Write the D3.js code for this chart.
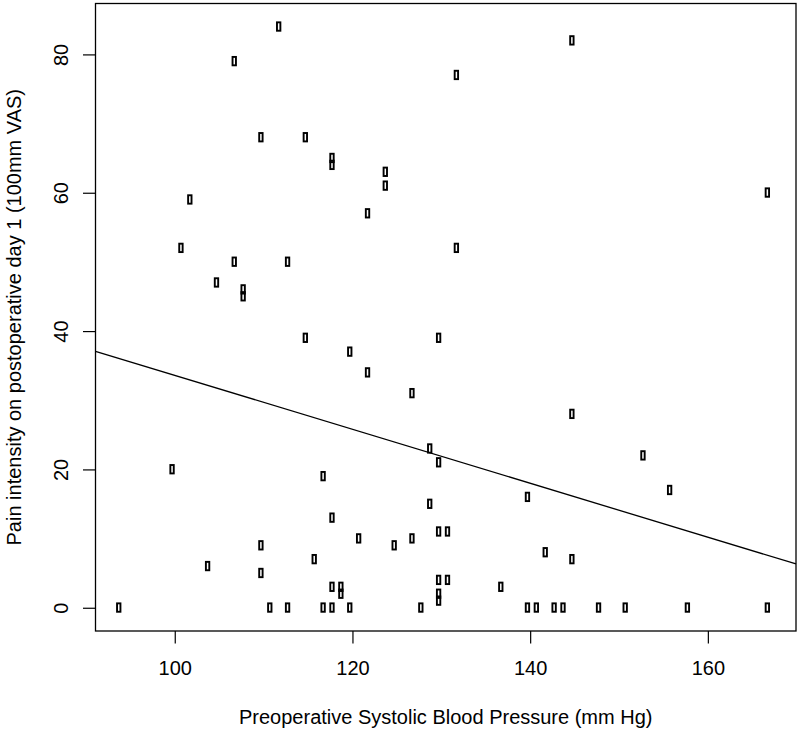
<!DOCTYPE html>
<html>
<head>
<meta charset="utf-8">
<script src="https://cdn.jsdelivr.net/npm/d3@7"></script>
<style>
  body { margin: 0; background: #fff; }
  text { font-family: "Liberation Sans", Arial, sans-serif; fill: #000; }
</style>
</head>
<body>
<svg id="chart" width="800" height="731"></svg>
<script>
// systolic BP (mm Hg) and pain VAS day 1
var bp = [112, 107, 110, 115, 118, 118, 102, 101, 107, 113, 105, 108, 108,
  132, 124, 124, 122, 132, 145, 167,
  115, 100, 117, 110, 104, 110, 116, 94, 111, 113, 117, 118, 118, 118,
  130, 120, 122, 127, 129, 130, 129, 140, 130, 131, 121, 125, 127, 142,
  130, 131, 137, 119, 119, 130, 130, 120, 128, 140, 141, 143, 144,
  145, 153, 156, 145, 148, 151, 158, 167];
var pain = [84, 79, 68, 68, 65, 64, 59, 52, 50, 50, 47, 46, 45,
  77, 63, 61, 57, 52, 82, 60,
  39, 20, 19, 9, 6, 5, 7, 0, 0, 0, 0, 13, 3, 0,
  39, 37, 34, 31, 23, 21, 15, 16, 11, 11, 10, 9, 10, 8,
  4, 4, 3, 3, 2, 2, 1, 0, 0, 0, 0, 0, 0,
  28, 22, 17, 7, 0, 0, 0, 0];

var xTicks = [100, 120, 140, 160];
var yTicks = [0, 20, 40, 60, 80];

// fitted line
var fitIntercept = 72.6;
var fitSlope = -0.390;

var svg = d3.select("#chart");
var pLeft = 95.5, pRight = 796, pTop = 3.5, pBottom = 631;

// R style 4% padding around data range
var xr = d3.extent(bp), yr = d3.extent(pain);
var xpad = (xr[1] - xr[0]) * 0.04, ypad = (yr[1] - yr[0]) * 0.04;

var x = d3.scaleLinear().domain([xr[0] - xpad, xr[1] + xpad]).range([pLeft, pRight]);
var y = d3.scaleLinear().domain([yr[0] - ypad, yr[1] + ypad]).range([pBottom, pTop]);

// x axis
var gx = svg.append("g")
  .attr("transform", "translate(0," + pBottom + ")")
  .call(d3.axisBottom(x).tickValues(xTicks).tickSize(12.5).tickFormat(d3.format("d")));
gx.select(".domain").remove();
gx.selectAll(".tick line").attr("stroke", "#000").attr("stroke-width", 1.2);
gx.selectAll(".tick text")
  .attr("y", 44.3).attr("dy", 0)
  .style("font-size", "20px");

// y axis
var gy = svg.append("g")
  .attr("transform", "translate(" + pLeft + ",0)")
  .call(d3.axisLeft(y).tickValues(yTicks).tickSize(12.5).tickFormat(d3.format("d")));
gy.select(".domain").remove();
gy.selectAll(".tick line").attr("stroke", "#000").attr("stroke-width", 1.2);
gy.selectAll(".tick text")
  .attr("transform", "rotate(-90)")
  .attr("x", 0).attr("y", -27.8).attr("dy", 0)
  .attr("text-anchor", "middle")
  .style("font-size", "20px");

// plot box
svg.append("rect")
  .attr("x", pLeft).attr("y", pTop)
  .attr("width", pRight - pLeft).attr("height", pBottom - pTop)
  .attr("fill", "none").attr("stroke", "#000").attr("stroke-width", 1.3);

// regression line
var x0 = x.domain()[0], x1 = x.domain()[1];
svg.append("line")
  .attr("x1", x(x0)).attr("y1", y(fitIntercept + fitSlope * x0))
  .attr("x2", x(x1)).attr("y2", y(fitIntercept + fitSlope * x1))
  .attr("stroke", "#000").attr("stroke-width", 1.3);

// points (open narrow squares)
var pts = bp.map(function(d, i) { return { bp: d, pain: pain[i] }; });
svg.append("g")
  .selectAll("rect")
  .data(pts)
  .enter()
  .append("rect")
    .attr("x", function(d) { return x(d.bp) - 4.4; })
    .attr("y", function(d) { return y(d.pain) - 4.4; })
    .attr("width", 3.4)
    .attr("height", 8.4)
    .attr("fill", "none")
    .attr("stroke", "#000")
    .attr("stroke-width", 1.9);

// axis titles
svg.append("text")
  .attr("x", (pLeft + pRight) / 2).attr("y", 724)
  .attr("text-anchor", "middle")
  .style("font-size", "20px")
  .text("Preoperative Systolic Blood Pressure (mm Hg)");

svg.append("text")
  .attr("transform", "translate(21," + (pTop + pBottom) / 2 + ") rotate(-90)")
  .attr("text-anchor", "middle")
  .style("font-size", "20px")
  .text("Pain intensity on postoperative day 1 (100mm VAS)");
</script>
</body>
</html>
